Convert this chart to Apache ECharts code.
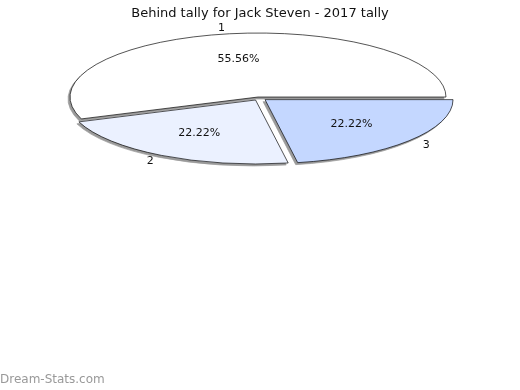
<!DOCTYPE html>
<html>
<head>
<meta charset="utf-8">
<script src="https://cdn.jsdelivr.net/npm/echarts@6/dist/echarts.min.js"></script>
<style>html,body{margin:0;padding:0;background:#fff}#c{width:520px;height:390px}</style>
</head>
<body>
<div id="c"></div>
<script>
const titleText = 'Behind tally for Jack Steven - 2017 tally';
const categories = ['1', '2', '3'];
const values = [5, 2, 2];
const sliceColors = ['#ffffff', '#ebf1ff', '#c4d7ff'];

const CX = 259.3, CY = 98.6, RX = 188, RY = 64, EXPLODE_X = 7.5, EXPLODE_Y = 1.6;
const K = RY / RX;
const total = values.reduce((a, b) => a + b, 0);
const FONT = '11px "DejaVu Sans"';

function renderItem(params, api) {
  const idx = params.dataIndex;
  const v = api.value(0);
  let before = 0;
  for (let i = 0; i < idx; i++) before += values[i];
  const t0 = before / total * Math.PI * 2;
  const t1 = t0 + v / total * Math.PI * 2;
  const mid = (t0 + t1) / 2;
  const cx = CX + EXPLODE_X * Math.cos(mid);
  const cy = CY - EXPLODE_Y * Math.sin(mid);
  const pct = (v / total * 100).toFixed(2) + '%';
  const shape = { cx: 0, cy: 0, r0: 0, r: RX, startAngle: -t1, endAngle: -t0, clockwise: true };
  return {
    type: 'group',
    children: [
      {
        type: 'group',
        x: cx - 2, y: cy + 2, scaleY: K,
        children: [{
          type: 'sector', z2: 0,
          shape: shape,
          style: { fill: '#9a9a9a', stroke: '#9a9a9a', lineWidth: 1, strokeNoScale: true }
        }]
      },
      {
        type: 'group',
        x: cx, y: cy, scaleY: K,
        children: [{
          type: 'sector', z2: 10,
          shape: shape,
          style: { fill: sliceColors[idx], stroke: '#000', lineWidth: 1, strokeNoScale: true }
        }]
      },
      {
        type: 'text', z2: 20,
        x: cx + 0.6 * RX * Math.cos(mid),
        y: cy - 0.6 * RY * Math.sin(mid),
        style: { text: pct, font: FONT, fill: '#111', align: 'center', verticalAlign: 'middle' }
      },
      {
        type: 'text', z2: 20,
        x: cx + 1.12 * RX * Math.cos(mid),
        y: cy - 1.1 * RY * Math.sin(mid),
        style: { text: categories[idx], font: FONT, fill: '#111', align: 'center', verticalAlign: 'middle' }
      }
    ]
  };
}

const chart = echarts.init(document.getElementById('c'), null, { renderer: 'canvas' });
chart.setOption({
  animation: false,
  backgroundColor: '#ffffff',
  title: {
    text: titleText, left: 'center', top: 2,
    textStyle: { fontFamily: 'DejaVu Sans', fontSize: 13, fontWeight: 'normal', color: '#111' }
  },
  graphic: [{
    type: 'text', left: 0, top: 374,
    style: { text: 'Dream-Stats.com', font: '12px "DejaVu Sans"', fill: '#999' }
  }],
  series: [{
    type: 'custom',
    coordinateSystem: 'none',
    renderItem: renderItem,
    data: categories.map((c, i) => ({ name: c, value: values[i] }))
  }]
});
</script>
</body>
</html>
